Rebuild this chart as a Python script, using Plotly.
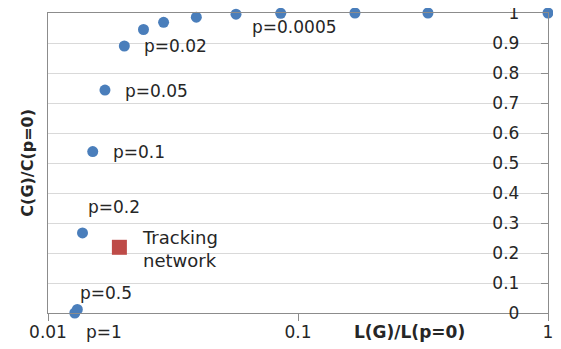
import numpy as np
import plotly.graph_objects as go

# Data
l_ratio = [0.0128, 0.0131, 0.01374, 0.0151, 0.0169, 0.0202, 0.0241, 0.0290, 0.0392, 0.0565, 0.0853, 0.169, 0.331, 1.0]
c_ratio = [0.0, 0.012, 0.267, 0.538, 0.743, 0.890, 0.945, 0.969, 0.986, 0.996, 0.999, 1.0, 1.0, 1.0]
track_l = [0.0193]
track_c = [0.219]

label_texts = ["p=0.0005", "p=0.02", "p=0.05", "p=0.1", "p=0.2", "p=0.5"]
label_x = [0.0972, 0.0325, 0.0272, 0.0231, 0.0183, 0.0171]
label_y = [0.955, 0.889, 0.740, 0.538, 0.353, 0.068]

y_ticks = [0, 0.1, 0.2, 0.3, 0.4, 0.5, 0.6, 0.7, 0.8, 0.9, 1]
y_ticktext = ["0", "0.1", "0.2", "0.3", "0.4", "0.5", "0.6", "0.7", "0.8", "0.9", "1"]
x_ticks = [0.01, 0.1, 1]
x_ticktext = ["0.01", "0.1", "1"]

FONT = "DejaVu Sans"
TXT = "#262626"
AXC = "#8c8c8c"

fig = go.Figure()
fig.add_trace(go.Scatter(x=l_ratio, y=c_ratio, mode="markers",
                         marker=dict(color="#4a7ebb", size=11, symbol="circle"),
                         cliponaxis=False, showlegend=False))
fig.add_trace(go.Scatter(x=track_l, y=track_c, mode="markers",
                         marker=dict(color="#be4b48", size=15, symbol="square"),
                         cliponaxis=False, showlegend=False))

for t, x, y in zip(label_texts, label_x, label_y):
    fig.add_annotation(x=np.log10(x), y=y, xref="x", yref="y", text=t, showarrow=False,
                       font=dict(family=FONT, size=17, color=TXT), xanchor="center", yanchor="middle")

# label below the axis (outside the y range)
fig.add_annotation(x=np.log10(0.0168), y=-0.062, xref="x", yref="paper", text="p=1", showarrow=False,
                   font=dict(family=FONT, size=17, color=TXT), xanchor="center", yanchor="middle")

fig.add_annotation(x=np.log10(0.0234), y=0.214, xref="x", yref="y", text="Tracking<br>network",
                   showarrow=False, align="left", xanchor="left", yanchor="middle",
                   font=dict(family=FONT, size=18, color=TXT))

fig.add_annotation(x=0.722, y=-0.062, xref="paper", yref="paper", text="<b>L(G)/L(p=0)</b>",
                   showarrow=False, xanchor="center", yanchor="middle",
                   font=dict(family=FONT, size=17, color=TXT))
fig.add_annotation(x=-0.0427, y=0.50, xref="paper", yref="paper", text="<b>C(G)/C(p=0)</b>",
                   showarrow=False, textangle=-90, xanchor="center", yanchor="middle",
                   font=dict(family=FONT, size=16, color=TXT))

fig.update_layout(
    width=553, height=341,
    margin=dict(l=40, r=13, t=5, b=36, autoexpand=False),
    paper_bgcolor="white", plot_bgcolor="white",
    font=dict(family=FONT, size=17, color=TXT),
    xaxis=dict(type="log", range=[-2, 0], tickvals=x_ticks, ticktext=x_ticktext,
               showgrid=False, zeroline=False, showline=True, linecolor=AXC, linewidth=1,
               mirror=True, ticks="outside", ticklen=7, tickcolor=AXC,
               ticklabelstandoff=-3, automargin=False,
               tickfont=dict(family=FONT, size=17, color=TXT)),
    yaxis=dict(range=[0, 1], side="right", tickvals=y_ticks, ticktext=y_ticktext,
               showgrid=True, gridcolor="#d9d9d9", gridwidth=1, zeroline=False,
               showline=True, linecolor=AXC, linewidth=1, mirror=True,
               ticks="inside", ticklen=7, tickcolor=AXC,
               ticklabelposition="inside", ticklabeloverflow="allow",
               ticklabelstandoff=22, automargin=False,
               tickfont=dict(family=FONT, size=17, color=TXT)),
)

fig.write_html("out.html")
